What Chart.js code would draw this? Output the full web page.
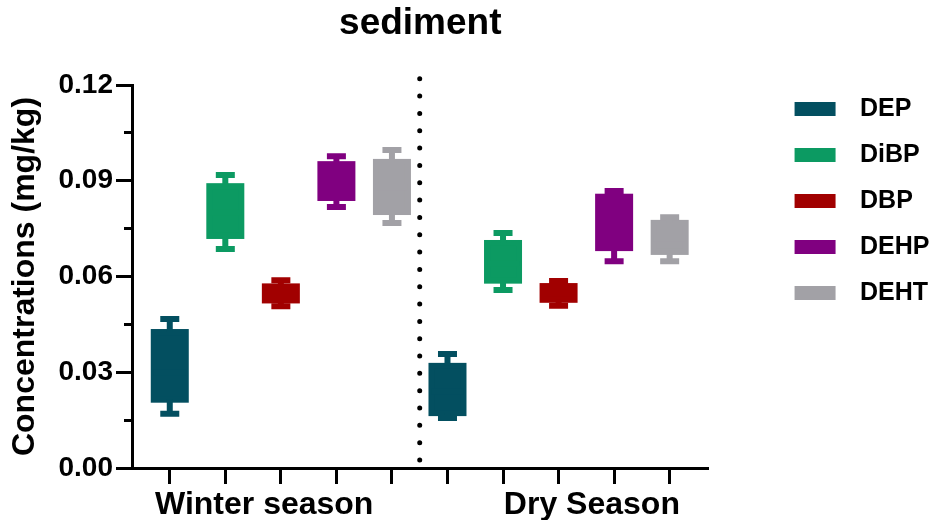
<!DOCTYPE html>
<html>
<head>
<meta charset="utf-8">
<script src="https://cdn.jsdelivr.net/npm/chart.js@4/dist/chart.umd.min.js"></script>
<style>
html,body{margin:0;padding:0;background:#fff;}
canvas{display:block;}
</style>
</head>
<body>
<canvas id="c" width="935" height="520"></canvas>
<script>
// ---------- data ----------
const compounds = ['DEP', 'DiBP', 'DBP', 'DEHP', 'DEHT'];
const seasons = ['Winter season', 'Dry Season'];

const winterMin    = [0.0170, 0.0686, 0.0507, 0.0818, 0.0768];
const winterQ1     = [0.0214, 0.0727, 0.0525, 0.0846, 0.0802];
const winterMedian = [0.0300, 0.0800, 0.0550, 0.0900, 0.0880];
const winterQ3     = [0.0426, 0.0883, 0.0569, 0.0952, 0.0959];
const winterMax    = [0.0467, 0.0918, 0.0588, 0.0977, 0.0996];

const dryMin    = [0.0157, 0.0558, 0.0508, 0.0648, 0.0648];
const dryQ1     = [0.0172, 0.0587, 0.0527, 0.0689, 0.0677];
const dryMedian = [0.0240, 0.0640, 0.0550, 0.0770, 0.0720];
const dryQ3     = [0.0320, 0.0705, 0.0570, 0.0850, 0.0768];
const dryMax    = [0.0357, 0.0736, 0.0586, 0.0868, 0.0786];

const yMajorTicks = [0, 0.03, 0.06, 0.09, 0.12];
const yMinorTicks = [0.015, 0.045, 0.075, 0.105];

// ---------- styling / layout config ----------
const colors = ['#034F60', '#0C9A62', '#A10000', '#800080', '#A2A1A6'];
const FONT = "'Liberation Sans', Arial, Helvetica, sans-serif";
Chart.defaults.font.family = FONT;
Chart.defaults.color = '#000';

const seasonStats = [
  {min: winterMin, q1: winterQ1, med: winterMedian, q3: winterQ3, max: winterMax},
  {min: dryMin, q1: dryQ1, med: dryMedian, q3: dryQ3, max: dryMax}
];
const slot = (si, ci) => si * compounds.length + ci + 1;
const slots = [];
seasons.forEach((s, si) => compounds.forEach((c, ci) => slots.push(slot(si, ci))));
const seasonLabelAt = [2.7, 8.6];
const sepX = compounds.length + 0.5;
const sepFrom = 0.0025, sepTo = 0.1222;
const xMin = 0.32, xMax = 10.7;
const yAllTicks = yMajorTicks.concat(yMinorTicks).sort((a, b) => a - b);
const isMajor = v => yMajorTicks.some(m => Math.abs(m - v) < 1e-9);

// legend swatches (image point styles)
const swatches = colors.map(col => {
  const cv = document.createElement('canvas');
  cv.width = 118; cv.height = 14;
  const g = cv.getContext('2d');
  g.fillStyle = col;
  g.fillRect(65, 0, 41, 14);
  return cv;
});

const datasets = compounds.map((name, ci) => ({
  type: 'bar',
  label: name,
  data: seasonStats.map((st, si) => ({x: slot(si, ci), y: [st.q1[ci], st.q3[ci]]})),
  backgroundColor: colors[ci],
  borderWidth: 0,
  barThickness: 32,
  grouped: false
}));
datasets.push({
  type: 'line',
  label: 'separator',
  data: [{x: sepX, y: sepFrom}, {x: sepX, y: sepTo}],
  borderColor: '#000',
  borderWidth: 5,
  borderDash: [0, 17.33],
  borderCapStyle: 'round',
  pointRadius: 0,
  fill: false,
  clip: false,
  tension: 0
});

const boxPlugin = {
  id: 'boxWhiskers',
  afterDatasetsDraw(chart) {
    const ctx = chart.ctx;
    const ys = chart.scales.y;
    compounds.forEach((name, ci) => {
      const meta = chart.getDatasetMeta(ci);
      meta.data.forEach((bar, si) => {
        const st = seasonStats[si];
        const {x, width} = bar.getProps(['x', 'width'], true);
        const pTop = ys.getPixelForValue(st.q3[ci]);
        const pBot = ys.getPixelForValue(st.q1[ci]);
        const pMed = ys.getPixelForValue(st.med[ci]);
        const pMax = ys.getPixelForValue(st.max[ci]);
        const pMin = ys.getPixelForValue(st.min[ci]);
        const cap = 9.5;
        ctx.save();
        ctx.strokeStyle = colors[ci];
        ctx.lineWidth = 6;
        ctx.lineCap = 'butt';
        ctx.strokeRect(x - width / 2, pTop, width, pBot - pTop);
        ctx.beginPath();
        ctx.moveTo(x - width / 2, pMed); ctx.lineTo(x + width / 2, pMed);
        ctx.moveTo(x, pTop); ctx.lineTo(x, pMax);
        ctx.moveTo(x, pBot); ctx.lineTo(x, pMin);
        ctx.moveTo(x - cap, pMax); ctx.lineTo(x + cap, pMax);
        ctx.moveTo(x - cap, pMin); ctx.lineTo(x + cap, pMin);
        ctx.stroke();
        ctx.restore();
      });
    });
  }
};

new Chart(document.getElementById('c'), {
  type: 'bar',
  data: {datasets},
  options: {
    responsive: false,
    animation: false,
    events: [],
    layout: {padding: {left: 0, top: 0, bottom: 0, right: -4.5}},
    plugins: {
      tooltip: {enabled: false},
      title: {
        display: true,
        text: 'sediment',
        fullSize: false,
        color: '#000',
        font: {size: 37, weight: 'bold', lineHeight: 1.2},
        padding: {top: 2, bottom: 38.6}
      },
      legend: {
        position: 'right',
        align: 'start',
        maxWidth: 400,
        title: {display: true, text: '', font: {size: 10, lineHeight: 1}, padding: {top: 65.5, bottom: 0}},
        labels: {
          usePointStyle: true,
          pointStyleWidth: 118,
          boxHeight: 14,
          padding: 21,
          color: '#000',
          font: {size: 25, weight: 'bold'},
          generateLabels: chart => Chart.defaults.plugins.legend.labels.generateLabels(chart)
            .filter(it => it.datasetIndex < compounds.length)
            .map(it => Object.assign(it, {pointStyle: swatches[it.datasetIndex]}))
        }
      }
    },
    scales: {
      x: {
        type: 'linear',
        position: 'bottom',
        min: xMin, max: xMax,
        offset: false,
        weight: 0,
        afterBuildTicks: s => { s.ticks = slots.map(v => ({value: v})); },
        ticks: {autoSkip: false, maxRotation: 0, callback: () => ''},
        grid: {display: true, offset: false, drawOnChartArea: false, drawTicks: true, tickLength: 16, tickWidth: 3, tickColor: '#000'},
        border: {display: true, width: 3, color: '#000'},
        afterFit: s => { s.height = 10; }
      },
      x2: {
        type: 'linear',
        axis: 'x',
        position: 'bottom',
        min: xMin, max: xMax,
        offset: false,
        weight: 1,
        afterBuildTicks: s => { s.ticks = seasonLabelAt.map(v => ({value: v})); },
        ticks: {autoSkip: false, maxRotation: 0, padding: 0, color: '#000',
                font: {size: 32, weight: 'bold', lineHeight: 1.2},
                callback: (v, i) => seasons[i]},
        grid: {display: false, offset: false},
        border: {display: false},
        afterFit: s => { s.height = 42; }
      },
      y: {
        type: 'linear',
        position: 'left',
        min: 0, max: 0.12,
        afterBuildTicks: s => { s.ticks = yAllTicks.map(v => ({value: v})); },
        ticks: {autoSkip: false, padding: 3, color: '#000',
                font: {size: 28, weight: 'bold'},
                callback: v => isMajor(v) ? v.toFixed(2) : ''},
        grid: {
          display: true, drawOnChartArea: false, drawTicks: true,
          tickLength: 16, tickWidth: 3, tickColor: '#000',
          tickBorderDash: c => (c.tick && !isMajor(c.tick.value)) ? [0, 8, 40] : []
        },
        border: {display: true, width: 3, color: '#000'},
        title: {display: true, text: 'Concentrations (mg/kg)', color: '#000',
                font: {size: 32, weight: 'bold', lineHeight: 1.2}, padding: {top: 6, bottom: 0}},
        afterFit: s => { s.width = 132; }
      }
    }
  },
  plugins: [boxPlugin]
});
</script>
</body>
</html>
